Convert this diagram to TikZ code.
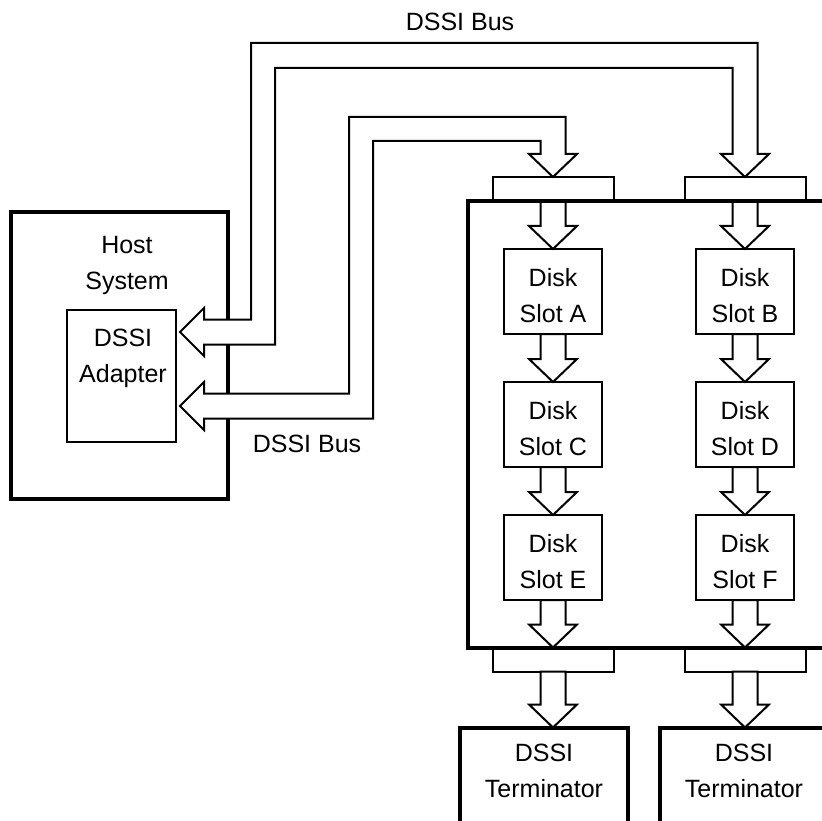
\documentclass[tikz,border=0pt]{standalone}
\usepackage{fontspec}
\setmainfont{Liberation Sans}
\usetikzlibrary{calc}
\begin{document}
\begin{tikzpicture}[x=1pt,y=-1pt,
  txt/.style={font=\fontsize{25}{36.5}\selectfont, align=center, inner sep=0pt, outer sep=0pt},
  box/.style={draw, line width=2pt, fill=white, inner sep=0pt, outer sep=0pt},
  heavy/.style={draw, line width=4pt, inner sep=0pt, outer sep=0pt},
  disk/.style={box, minimum width=98pt, minimum height=85pt, label={[txt, yshift=-4pt]center:#1}},
  conn/.style={box, minimum width=121pt, minimum height=24pt},
  bus/.style={draw, fill=white, line width=2pt},
  blockarrow/.style={draw, fill=white, line width=2pt,
    to path={let \p1=(\tikztostart), \p2=(\tikztotarget) in
      (\x1-12.5pt,\y1) -- (\x1-12.5pt,\y2+23pt) -- (\x1-24pt,\y2+23pt) -- (\x1,\y2)
      -- (\x1+24pt,\y2+23pt) -- (\x1+12.5pt,\y2+23pt) -- (\x1+12.5pt,\y1) -- cycle}}
]
\useasboundingbox (0,0) rectangle (822,821);
\clip (0,0) rectangle (822,821);

% Host system
\node[heavy, minimum width=217pt, minimum height=287pt] (host) at (119.5,355.5) {};
\node[txt] (hosttxt) at (127,265.5) {Host\\System};
\node[box, minimum width=109pt, minimum height=132pt] (adapter) at (121.5,376) {};
\node[txt] (adaptertxt) at (123,358.5) {DSSI\\Adapter};

% bus labels
\node[txt] (busT) at (460,21.5) {DSSI Bus};
\node[txt] (busB) at (307,443.5) {DSSI Bus};

% connectors (top)
\node[conn] (connTL) at (553,189) {};
\node[conn] (connTR) at (745,189) {};

% DSSI buses
\coordinate (t1) at (180,332);
\coordinate (t2) at (180,406);
\draw[bus] (t1) -- ++(24,-24) -- ++(0,11.5) -| (251,43) -| (757.5,154) -- (769,154)
  -- (connTR.north) -- (721,154) -- (732.5,154) |- (275,68) |- ($(t1)+(24,12.5)$)
  -- ++(0,11.5) -- cycle;
\draw[bus] (t2) -- ++(24,-24) -- ++(0,11.5) -| (349,117) -| (565.5,154) -- (577,154)
  -- (connTL.north) -- (529,154) -- (540.5,154) |- (373,141) |- ($(t2)+(24,12.5)$)
  -- ++(0,11.5) -- cycle;

% bottom connectors
\node[conn] (connBL) at (553,659.5) {};
\node[conn] (connBR) at (745,659.5) {};

% disk slots
\node[disk={Disk\\Slot A}] (diskA) at (553,291.5) {};
\node[disk={Disk\\Slot B}] (diskB) at (745,291.5) {};
\node[disk={Disk\\Slot C}] (diskC) at (553,424.5) {};
\node[disk={Disk\\Slot D}] (diskD) at (745,424.5) {};
\node[disk={Disk\\Slot E}] (diskE) at (553,557.5) {};
\node[disk={Disk\\Slot F}] (diskF) at (745,557.5) {};

% arrows inside the enclosure
\draw[blockarrow] (connTL.south) to (diskA.north);
\draw[blockarrow] (diskA.south) to (diskC.north);
\draw[blockarrow] (diskC.south) to (diskE.north);
\draw[blockarrow] (diskE.south) to (connBL.north);
\draw[blockarrow] (connTR.south) to (diskB.north);
\draw[blockarrow] (diskB.south) to (diskD.north);
\draw[blockarrow] (diskD.south) to (diskF.north);
\draw[blockarrow] (diskF.south) to (connBR.north);

% enclosure
\node[heavy, anchor=north west, minimum width=420pt, minimum height=447pt] (cab) at (468,201) {};

% terminators
\node[heavy, anchor=north, minimum width=168pt, minimum height=130pt] (termL) at (544,727.5) {};
\node[heavy, anchor=north, minimum width=168pt, minimum height=130pt] (termR) at (744,727.5) {};
\node[txt] (termLtxt) at (544,771) {DSSI\\Terminator};
\node[txt] (termRtxt) at (744,771) {DSSI\\Terminator};
\draw[blockarrow] (connBL.south) to (termL.north);
\draw[blockarrow] (connBR.south) to (termR.north);
\end{tikzpicture}
\end{document}
